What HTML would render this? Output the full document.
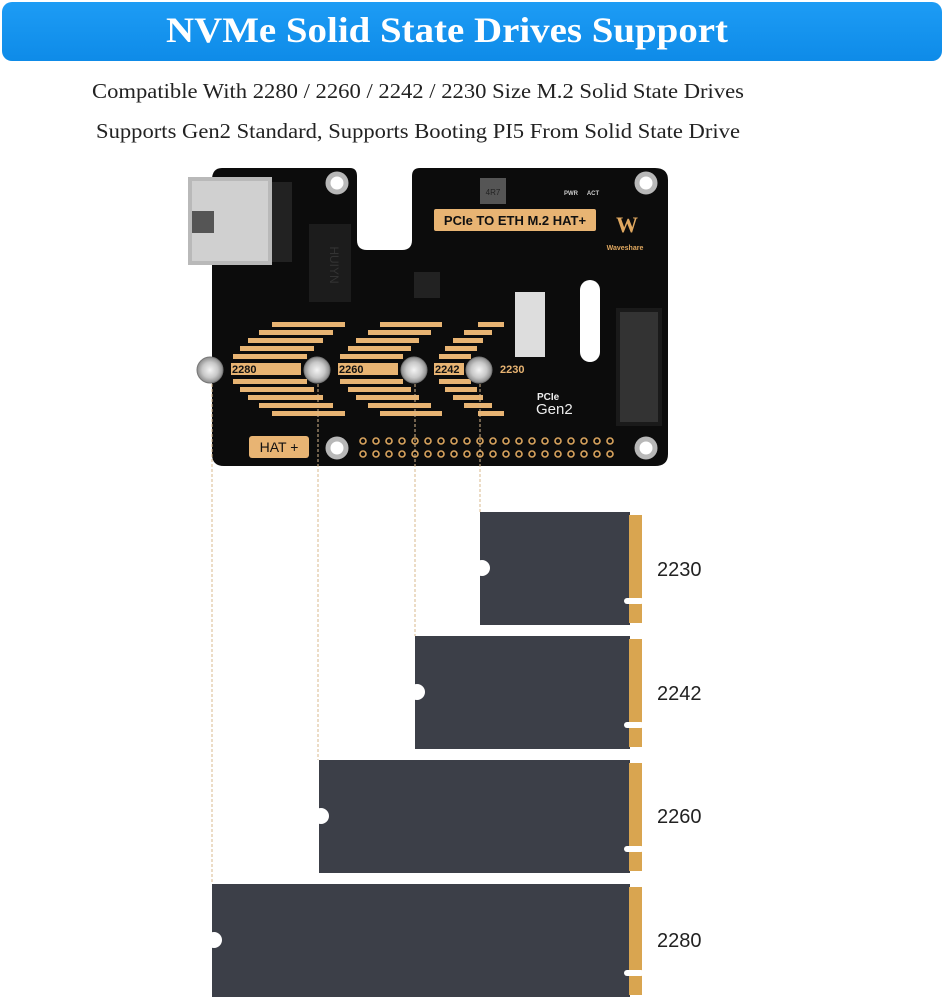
<!DOCTYPE html>
<html><head><meta charset="utf-8"><style>
html,body{margin:0;padding:0;background:#fff;}
svg{display:block;}
</style></head><body>
<svg width="945" height="1000" viewBox="0 0 945 1000" xmlns="http://www.w3.org/2000/svg">
<defs>
<linearGradient id="bar" x1="0" y1="0" x2="0" y2="1"><stop offset="0" stop-color="#1d9cf5"/><stop offset="1" stop-color="#0e8be8"/></linearGradient>
<radialGradient id="scr"><stop offset="0" stop-color="#f4f4f4"/><stop offset="0.6" stop-color="#c8c8c8"/><stop offset="1" stop-color="#8a8a8a"/></radialGradient>
</defs>
<rect x="2" y="2" width="940" height="59" rx="10" fill="url(#bar)"/>
<text x="447" y="42" text-anchor="middle" font-family="Liberation Serif, serif" font-weight="bold" font-size="36" fill="#fff" textLength="562" lengthAdjust="spacingAndGlyphs">NVMe Solid State Drives Support</text>
<text x="92" y="98" font-family="Liberation Serif, serif" font-size="21" fill="#222" textLength="652" lengthAdjust="spacingAndGlyphs">Compatible With 2280 / 2260 / 2242 / 2230 Size M.2 Solid State Drives</text>
<text x="96" y="138" font-family="Liberation Serif, serif" font-size="21" fill="#222" textLength="644" lengthAdjust="spacingAndGlyphs">Supports Gen2 Standard, Supports Booting PI5 From Solid State Drive</text>

<path d="M222 168 H350 Q357 168 357 176 V240 Q357 250 367 250 H402 Q412 250 412 240 V176 Q412 168 420 168 H655 Q668 168 668 180 V454 Q668 466 655 466 H224 Q212 466 212 454 V180 Q212 168 222 168 Z" fill="#0c0c0c"/>
<rect x="188" y="177" width="84" height="88" fill="#b9b9b9"/>
<rect x="192" y="181" width="76" height="80" fill="#d0d0d0"/>
<rect x="192" y="211" width="22" height="22" fill="#555"/>
<rect x="272" y="182" width="20" height="80" fill="#222"/>
<rect x="309" y="224" width="42" height="78" fill="#1c1c1c"/>
<text x="330" y="265" font-family="Liberation Sans, sans-serif" font-size="12" fill="#333" text-anchor="middle" transform="rotate(90 330 265)">HUIYN</text>
<rect x="414" y="272" width="26" height="26" fill="#222"/>
<rect x="480" y="178" width="26" height="26" fill="#555"/>
<text x="493" y="195" font-family="Liberation Sans, sans-serif" font-size="8" fill="#222" text-anchor="middle">4R7</text>
<text x="571" y="195" font-family="Liberation Sans, sans-serif" font-size="6" font-weight="bold" fill="#ccc" text-anchor="middle">PWR</text>
<text x="593" y="195" font-family="Liberation Sans, sans-serif" font-size="6" font-weight="bold" fill="#ccc" text-anchor="middle">ACT</text>
<rect x="434" y="209" width="162" height="22" rx="2" fill="#e8b473"/>
<text x="515" y="225" font-family="Liberation Sans, sans-serif" font-size="13" font-weight="bold" fill="#111" text-anchor="middle">PCIe TO ETH M.2 HAT+</text>
<text x="627" y="232" font-family="Liberation Serif, serif" font-size="22" font-weight="bold" fill="#e0a860" text-anchor="middle">W</text>
<text x="625" y="250" font-family="Liberation Sans, sans-serif" font-size="7" font-weight="bold" fill="#e0a860" text-anchor="middle">Waveshare</text>
<rect x="580" y="280" width="20" height="82" rx="10" fill="#fff"/>
<rect x="515" y="292" width="30" height="65" fill="#ddd"/>
<rect x="616" y="308" width="46" height="118" fill="#1a1a1a"/>
<rect x="620" y="312" width="38" height="110" fill="#333"/>
<text x="537" y="400" font-family="Liberation Sans, sans-serif" font-size="10" font-weight="bold" fill="#eee">PCIe</text>
<text x="536" y="414" font-family="Liberation Sans, sans-serif" font-size="15" fill="#eee">Gen2</text>
<g fill="#e8b473">
<rect x="272" y="322" width="73" height="5"/><rect x="259" y="330" width="74" height="5"/><rect x="248" y="338" width="75" height="5"/><rect x="240" y="346" width="74" height="5"/><rect x="233" y="354" width="74" height="5"/>
<rect x="231" y="363" width="70" height="12"/><rect x="233" y="379" width="74" height="5"/><rect x="240" y="387" width="74" height="5"/><rect x="248" y="395" width="75" height="5"/><rect x="259" y="403" width="74" height="5"/><rect x="272" y="411" width="73" height="5"/>
<rect x="380" y="322" width="62" height="5"/><rect x="368" y="330" width="63" height="5"/><rect x="356" y="338" width="63" height="5"/><rect x="348" y="346" width="63" height="5"/><rect x="340" y="354" width="63" height="5"/>
<rect x="338" y="363" width="60" height="12"/><rect x="340" y="379" width="63" height="5"/><rect x="348" y="387" width="63" height="5"/><rect x="356" y="395" width="63" height="5"/><rect x="368" y="403" width="63" height="5"/><rect x="380" y="411" width="62" height="5"/>
<rect x="478" y="322" width="26" height="5"/><rect x="464" y="330" width="28" height="5"/><rect x="453" y="338" width="30" height="5"/><rect x="445" y="346" width="32" height="5"/><rect x="439" y="354" width="32" height="5"/>
<rect x="434" y="363" width="30" height="12"/><rect x="439" y="379" width="32" height="5"/><rect x="445" y="387" width="32" height="5"/><rect x="453" y="395" width="30" height="5"/><rect x="464" y="403" width="28" height="5"/><rect x="478" y="411" width="26" height="5"/>
</g>
<g font-family="Liberation Sans, sans-serif" font-size="11" font-weight="bold" fill="#111">
<text x="232" y="373">2280</text><text x="339" y="373">2260</text><text x="435" y="373">2242</text>
</g>
<text x="500" y="373" font-family="Liberation Sans, sans-serif" font-size="11" font-weight="bold" fill="#e8b473">2230</text>
<rect x="249" y="436" width="60" height="22" rx="3" fill="#e8b473"/>
<text x="279" y="452" font-family="Liberation Sans, sans-serif" font-size="14" fill="#111" text-anchor="middle">HAT +</text>
<g fill="none" stroke="#d9a45e" stroke-width="1.6">
<circle cx="363" cy="441" r="3"/><circle cx="376" cy="441" r="3"/><circle cx="389" cy="441" r="3"/><circle cx="402" cy="441" r="3"/><circle cx="415" cy="441" r="3"/><circle cx="428" cy="441" r="3"/><circle cx="441" cy="441" r="3"/><circle cx="454" cy="441" r="3"/><circle cx="467" cy="441" r="3"/><circle cx="480" cy="441" r="3"/><circle cx="493" cy="441" r="3"/><circle cx="506" cy="441" r="3"/><circle cx="519" cy="441" r="3"/><circle cx="532" cy="441" r="3"/><circle cx="545" cy="441" r="3"/><circle cx="558" cy="441" r="3"/><circle cx="571" cy="441" r="3"/><circle cx="584" cy="441" r="3"/><circle cx="597" cy="441" r="3"/><circle cx="610" cy="441" r="3"/>
<circle cx="363" cy="454" r="3"/><circle cx="376" cy="454" r="3"/><circle cx="389" cy="454" r="3"/><circle cx="402" cy="454" r="3"/><circle cx="415" cy="454" r="3"/><circle cx="428" cy="454" r="3"/><circle cx="441" cy="454" r="3"/><circle cx="454" cy="454" r="3"/><circle cx="467" cy="454" r="3"/><circle cx="480" cy="454" r="3"/><circle cx="493" cy="454" r="3"/><circle cx="506" cy="454" r="3"/><circle cx="519" cy="454" r="3"/><circle cx="532" cy="454" r="3"/><circle cx="545" cy="454" r="3"/><circle cx="558" cy="454" r="3"/><circle cx="571" cy="454" r="3"/><circle cx="584" cy="454" r="3"/><circle cx="597" cy="454" r="3"/><circle cx="610" cy="454" r="3"/>
</g>
<g fill="#fff" stroke="#b8b8b8" stroke-width="5">
<circle cx="337" cy="183" r="9"/><circle cx="646" cy="183" r="9"/><circle cx="337" cy="448" r="9"/><circle cx="646" cy="448" r="9"/>
</g>
<g fill="url(#scr)" stroke="#777" stroke-width="1">
<circle cx="210" cy="370" r="13"/><circle cx="317" cy="370" r="13"/><circle cx="414" cy="370" r="13"/><circle cx="479" cy="370" r="13"/>
</g>
<g stroke="#d9b98e" stroke-width="1" stroke-dasharray="3,2">
<line x1="212" y1="384" x2="212" y2="884"/><line x1="318" y1="384" x2="318" y2="760"/><line x1="415" y1="384" x2="415" y2="636"/><line x1="480" y1="384" x2="480" y2="512"/>
</g>
<g>
<rect x="480" y="512" width="150" height="113" fill="#3c3f48"/>
<rect x="629" y="515" width="13" height="108" fill="#d9a550"/>
<circle cx="482" cy="568" r="8" fill="#fff"/>
<rect x="624" y="598" width="20" height="6" rx="3" fill="#fff"/>
<rect x="415" y="636" width="215" height="113" fill="#3c3f48"/>
<rect x="629" y="639" width="13" height="108" fill="#d9a550"/>
<circle cx="417" cy="692" r="8" fill="#fff"/>
<rect x="624" y="722" width="20" height="6" rx="3" fill="#fff"/>
<rect x="319" y="760" width="311" height="113" fill="#3c3f48"/>
<rect x="629" y="763" width="13" height="108" fill="#d9a550"/>
<circle cx="321" cy="816" r="8" fill="#fff"/>
<rect x="624" y="846" width="20" height="6" rx="3" fill="#fff"/>
<rect x="212" y="884" width="418" height="113" fill="#3c3f48"/>
<rect x="629" y="887" width="13" height="108" fill="#d9a550"/>
<circle cx="214" cy="940" r="8" fill="#fff"/>
<rect x="624" y="970" width="20" height="6" rx="3" fill="#fff"/>
</g>
<g font-family="Liberation Sans, sans-serif" font-size="20" fill="#222">
<text x="657" y="576">2230</text><text x="657" y="700">2242</text><text x="657" y="823">2260</text><text x="657" y="947">2280</text>
</g>
</svg>
</body></html>
